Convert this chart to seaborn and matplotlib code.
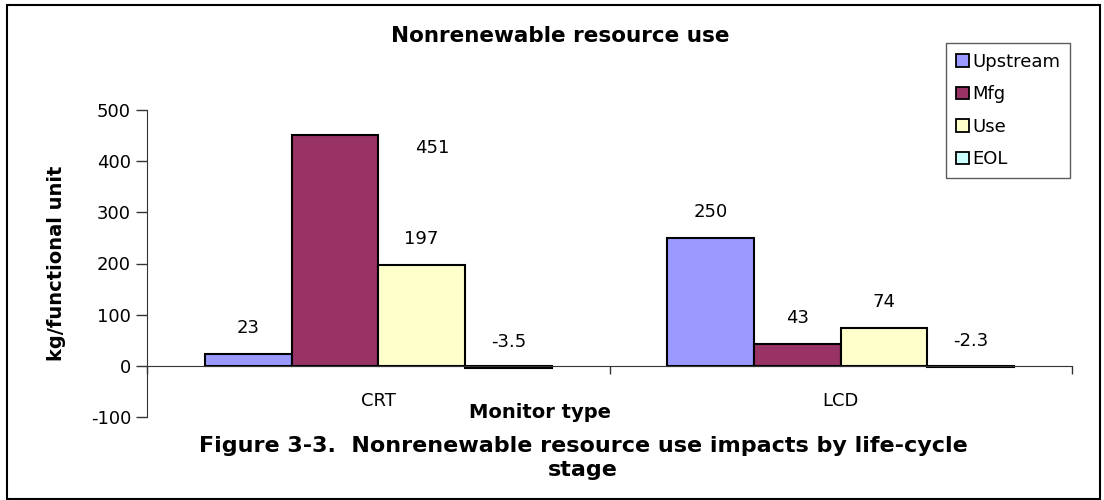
import pandas as pd
import seaborn as sns
import matplotlib.pyplot as plt
from matplotlib.patches import Patch, Rectangle

monitors = ['CRT', 'LCD']
stages = ['Upstream', 'Mfg', 'Use', 'EOL']
crt_values = [23, 451, 197, -3.5]
lcd_values = [250, 43, 74, -2.3]
stage_colors = ['#9999FF', '#993366', '#FFFFCC', '#CCFFFF']
value_labels = ['23', '451', '197', '-3.5', '250', '43', '74', '-2.3']

if __name__ == '__main__':
    data = pd.DataFrame({
        'monitor': [m for m in monitors for _ in stages],
        'stage': stages * len(monitors),
        'value': crt_values + lcd_values,
    })

    sns.set_style('white')
    plt.rcParams['font.family'] = ['DejaVu Sans']
    plt.rcParams['axes.unicode_minus'] = False
    plt.rcParams['text.color'] = 'black'
    plt.rcParams['xtick.color'] = 'black'
    plt.rcParams['ytick.color'] = 'black'
    plt.rcParams['axes.labelcolor'] = 'black'

    fig = plt.figure(figsize=(11.04, 5.0), dpi=100)
    ax = fig.add_axes([147 / 1104, 1 - 417 / 500, 925 / 1104, 307 / 500])

    sns.barplot(data=data, x='monitor', y='value', hue='stage', order=monitors,
                hue_order=stages, palette=stage_colors, width=0.75,
                edgecolor='black', linewidth=1.5, saturation=1, ax=ax, legend=False)

    ax.set_ylim(-100, 500)
    ax.set_xlim(-0.5, 1.5)
    ax.set_yticks(range(-100, 501, 100))
    ax.tick_params(axis='y', labelsize=13, length=8, width=1, direction='out', color='#333333', left=True)
    ax.set_xticks([0, 1])
    ax.set_xticklabels(monitors)
    ax.set_xticks([-0.5, 0.5, 1.5], minor=True)
    ax.tick_params(axis='x', which='major', length=0, pad=19, labelsize=13)
    ax.tick_params(axis='x', which='minor', length=6, width=1, color='#333333', bottom=True)
    for side in ['top', 'right']:
        ax.spines[side].set_visible(False)
    ax.spines['bottom'].set_position(('data', 0))
    ax.spines['left'].set_color('#333333')
    ax.spines['bottom'].set_color('#333333')
    ax.set_xlabel('')
    ax.set_ylabel('kg/functional unit', fontsize=14, fontweight='bold', labelpad=18)

    # data labels above each bar, the 451 label sits off to the side as in the original
    bars = [p for p in ax.patches if isinstance(p, Rectangle) and p.get_width() < 0.5]
    bars = sorted(bars, key=lambda p: p.get_x())
    for bar, text in zip(bars, value_labels):
        x = bar.get_x() + bar.get_width() / 2
        y = bar.get_height() + 50
        if text == '451':
            x += 0.21
            y = 425
        ax.text(x, y, text, ha='center', va='center', fontsize=13)

    handles = [Patch(facecolor=c, edgecolor='black', linewidth=1.3) for c in stage_colors]
    leg = ax.legend(handles, stages, loc='upper left', bbox_to_anchor=(946 / 1104, 1 - 43 / 500),
                    bbox_transform=fig.transFigure, fontsize=13, frameon=True, fancybox=False,
                    handlelength=0.7, handleheight=0.7, handletextpad=0.2, labelspacing=0.8,
                    borderpad=0.55, borderaxespad=0)
    leg.get_frame().set_edgecolor('#333333')
    leg.get_frame().set_linewidth(1)

    fig.text(560 / 1104, 1 - 36 / 500, 'Nonrenewable resource use', ha='center', va='center',
             fontsize=15.5, fontweight='bold')
    fig.text(540 / 1104, 1 - 412 / 500, 'Monitor type', ha='center', va='center',
             fontsize=14, fontweight='bold')
    fig.text(583 / 1104, 1 - 458 / 500,
             'Figure 3-3.  Nonrenewable resource use impacts by life-cycle\nstage',
             ha='center', va='center', fontsize=16, fontweight='bold', linespacing=1.3)

    fig.patches.append(Rectangle((7 / 1104, 0.002), 1093 / 1104, 1 - 5 / 500 - 0.002,
                                 transform=fig.transFigure, fill=False, edgecolor='black',
                                 linewidth=1.5))

    plt.savefig('out.png', format='png', dpi=100)
